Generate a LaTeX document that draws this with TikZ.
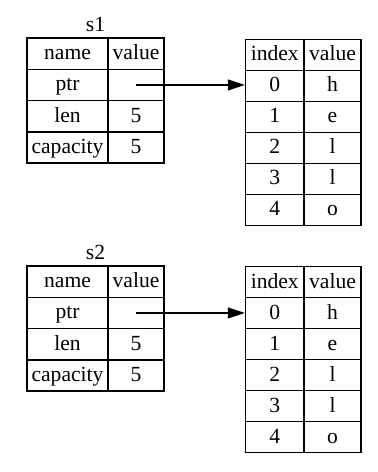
\documentclass[tikz,border=0pt]{standalone}
\usepackage{fontspec}
\setmainfont{Liberation Serif}
\usetikzlibrary{arrows.meta}
\begin{document}
\begin{tikzpicture}[x=1pt, y=-1pt, >={Triangle[length=17pt, width=11pt]}]
	\tikzset{cell/.style={draw, line width=1.5pt, inner sep=0pt, minimum height=31.3pt, text height=14pt, text depth=2pt, font=\fontsize{21.6}{26}\selectfont},
		title/.style={inner sep=0pt, font=\fontsize{21.6}{26}\selectfont},
		ptr/.style={->, line width=1.3pt}}
	\useasboundingbox (0,0) rectangle (378,472);
	% stack side: s1 and s2
	\foreach \n/\ty in {1/38, 2/266} {
		\node[title] (s\n) at (95.5,\ty-13.5) {s\n};
		\foreach \name/\val [count=\r from 0] in {name/value, ptr/{}, len/5, capacity/5} {
			\node[cell, minimum width=81pt] (s\n key\r) at (67.5,\ty+15.65+31.3*\r) {\name};
			\node[cell, minimum width=56pt] (s\n val\r) at (136,\ty+15.65+31.3*\r) {\val};
		}
	}
	% heap side
	\foreach \n/\ty in {1/39.3, 2/266.7} {
		\foreach \i/\c [count=\r from 0] in {index/value, 0/h, 1/e, 2/l, 3/l, 4/o} {
			\node[cell, minimum height=31pt, minimum width=58.5pt] (h\n idx\r) at (274.75,\ty+15.5+31*\r) {\i};
			\node[cell, minimum height=31pt, minimum width=57pt] (h\n chr\r) at (332.5,\ty+15.5+31*\r) {\c};
		}
	}
	% pointers
	\draw[ptr] (s1val1.center) -- (s1val1.center -| h1idx1.west);
	\draw[ptr] (s2val1.center) -- (s2val1.center -| h2idx1.west);
\end{tikzpicture}
\end{document}
